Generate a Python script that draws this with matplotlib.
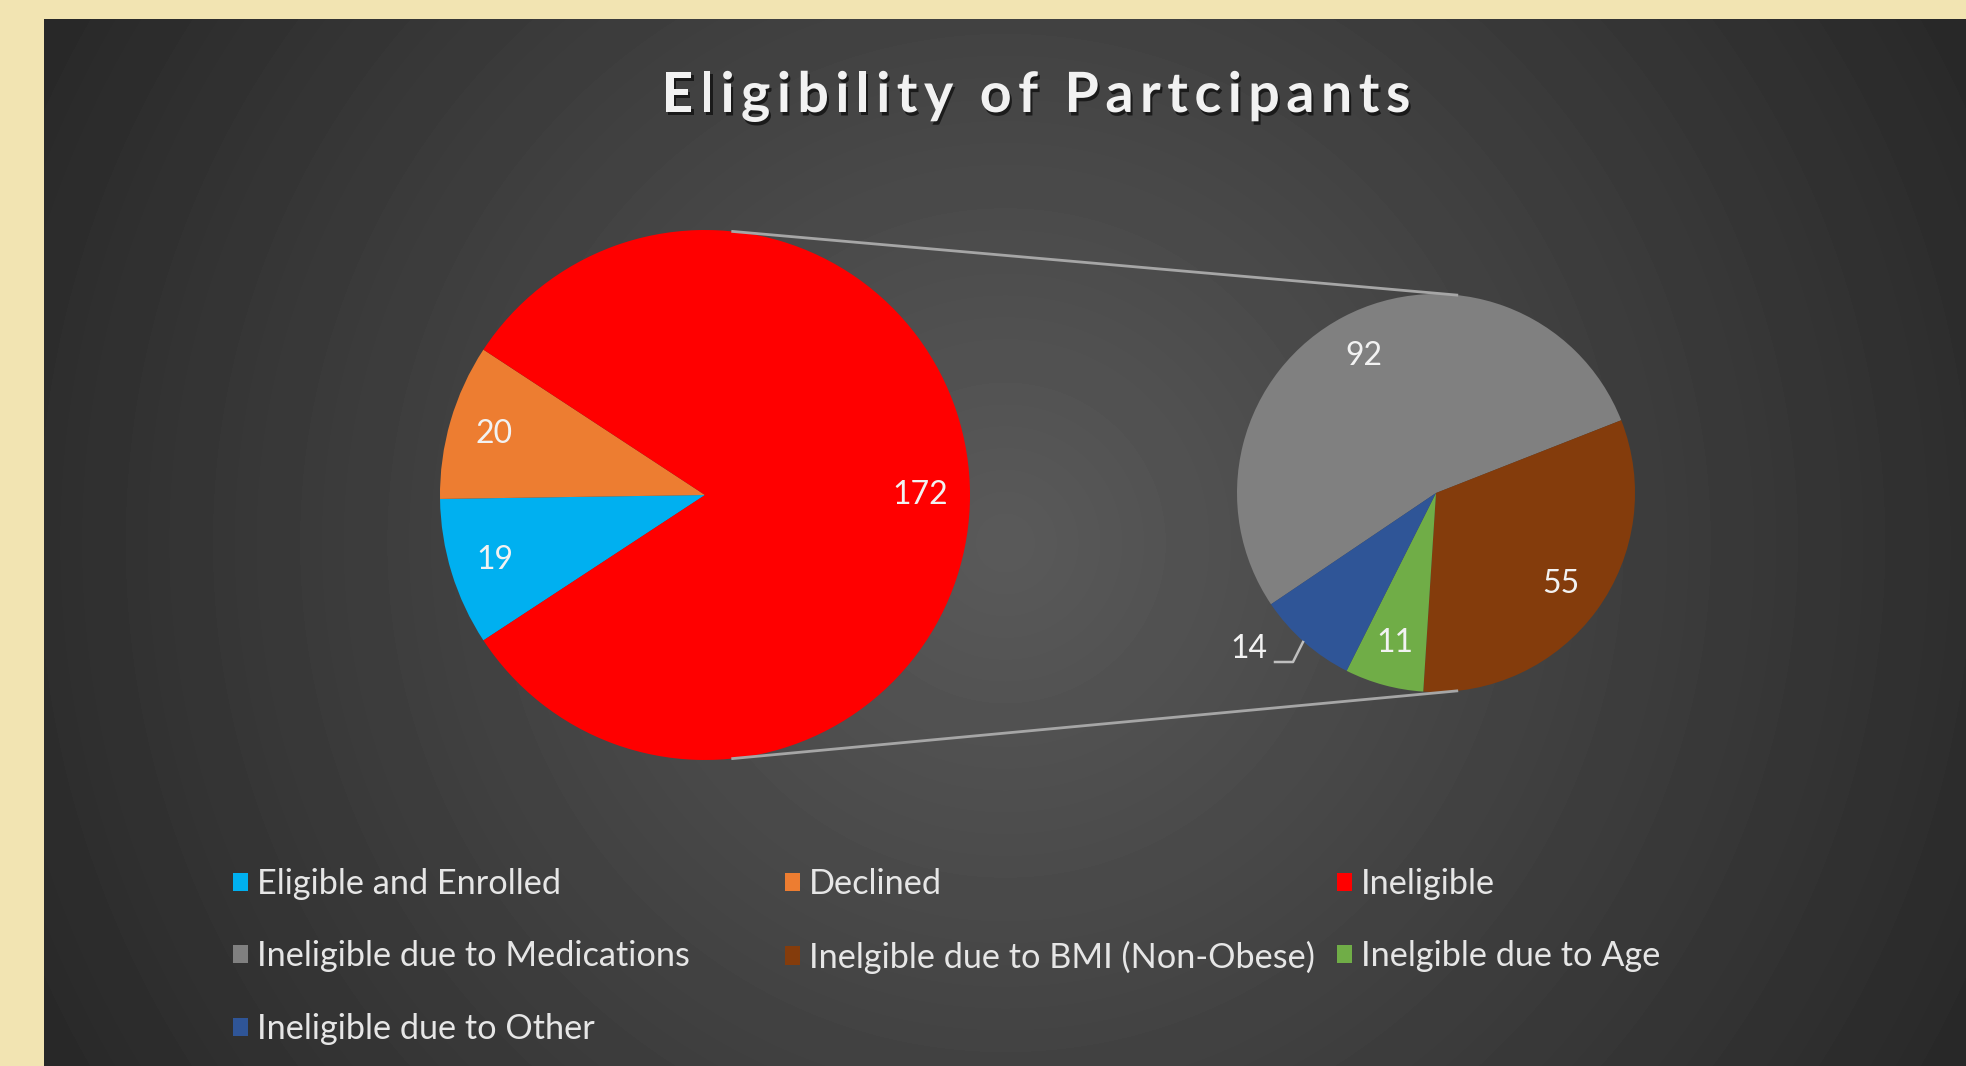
import numpy as np
import matplotlib.pyplot as plt
import matplotlib.patheffects as pe

# main pie (clockwise order as in the legend)
main_labels = ['Eligible and Enrolled', 'Declined', 'Ineligible']
main_values = [19, 20, 172]
main_colors = ['#00B0F0', '#ED7D31', '#FF0000']

# breakdown of the "Ineligible" slice
sub_labels = ['Ineligible due to Medications', 'Inelgible due to BMI (Non-Obese)',
              'Inelgible due to Age', 'Ineligible due to Other']
sub_values = [92, 55, 11, 14]
sub_colors = ['#808080', '#843C0C', '#70AD47', '#2F5597']

title = 'Eligibility of Partcipants'

W, H = 1966, 1066
fig = plt.figure(figsize=(W / 100, H / 100), dpi=100, facecolor='#F2E4B2')
ax = fig.add_axes([0, 0, 1, 1])

# dark panel with a radial gradient
px0, py0 = 44, 19
yy, xx = np.mgrid[0:H - py0, 0:W - px0]
cx, cy = (W - px0) / 2, (H - py0) / 2
d = np.hypot(xx - cx, yy - cy) / np.hypot(cx, cy)
shade = (90 - 50 * d) / 255
ax.imshow(shade, cmap='gray', vmin=0, vmax=1, extent=(px0, W, 0, H - py0), zorder=0)

txt = dict(color='#F2F2F2', fontsize=23, family='Lato')

# left pie, "Ineligible" centred on the right
c1, r1 = (705, H - 495), 265
start1 = 360 - 180 * main_values[2] / sum(main_values)
w1, _, t1 = ax.pie(main_values, colors=main_colors, center=c1, radius=r1,
                   startangle=start1, counterclock=False, frame=True,
                   autopct=lambda p: f'{p * sum(main_values) / 100:.0f}',
                   pctdistance=0.83, textprops=txt)
x, y = t1[2].get_position()
t1[2].set_position((x - 5, y))

# right pie, breakdown
c2, r2 = (1436, H - 493), 199
w2, _, t2 = ax.pie(sub_values, colors=sub_colors, center=c2, radius=r2,
                   startangle=214, counterclock=False, frame=True,
                   autopct=lambda p: f'{p * sum(sub_values) / 100:.0f}',
                   pctdistance=0.78, textprops=txt)

# small slice label sits outside with a leader line
lx, ly = c2[0] - 187, c2[1] - 156
t2[3].set_position((lx, ly))
ax.plot([lx + 26, lx + 44, lx + 54], [ly - 13, ly - 13, ly + 7],
        color='#BFBFBF', lw=1.8, zorder=5)

# connector lines between the pies
ang = np.deg2rad(84)
for s in (1, -1):
    ax.plot([c1[0] + r1 * np.cos(ang), c2[0] + r2 * np.cos(ang)],
            [c1[1] + s * r1 * np.sin(ang), c2[1] + s * r2 * np.sin(ang)],
            color='#A6A6A6', lw=2, zorder=1)

ax.set_xlim(0, W)
ax.set_ylim(0, H)
ax.set_aspect('auto')
ax.axis('off')

# title with letter spacing: place characters one by one
tkw = dict(fontsize=40, family='Lato', weight='bold', color='#F2F2F2',
           va='baseline', ha='left',
           path_effects=[pe.withSimplePatchShadow(offset=(1.5, -2.5),
                                                  shadow_rgbFace='black', alpha=0.6)])
r = fig.canvas.get_renderer()


def text_width(s):
    t = fig.text(0, 0, s + '|', **tkw)
    w = t.get_window_extent(r).width
    t.remove()
    return w


bar_w = text_width('')
pos = [text_width(title[:i]) - bar_w for i in range(len(title) + 1)]
track = 6.5
total = pos[-1] + track * (len(title) - 1)
x0 = 1036 - total / 2
for i, ch in enumerate(title):
    if ch != ' ':
        fig.text((x0 + pos[i] + track * i) / W, 1 - 112 / H, ch, **tkw)

# legend laid out row by row in three columns
handles = list(w1) + list(w2)
labels = main_labels + sub_labels
col_x = [233, 785, 1337]
for k, x in enumerate(col_x):
    idx = list(range(k, len(labels), 3))
    fig.legend([handles[i] for i in idx], [labels[i] for i in idx],
               loc='upper left', bbox_to_anchor=(x / W, 1 - 868 / H),
               frameon=False, borderpad=0, borderaxespad=0,
               handlelength=0.45, handleheight=0.45, handletextpad=0.25,
               labelspacing=1.18, prop=dict(family='Lato', size=24.7),
               labelcolor='#E6E6E6')

fig.savefig('out.png', dpi=100, facecolor=fig.get_facecolor())
